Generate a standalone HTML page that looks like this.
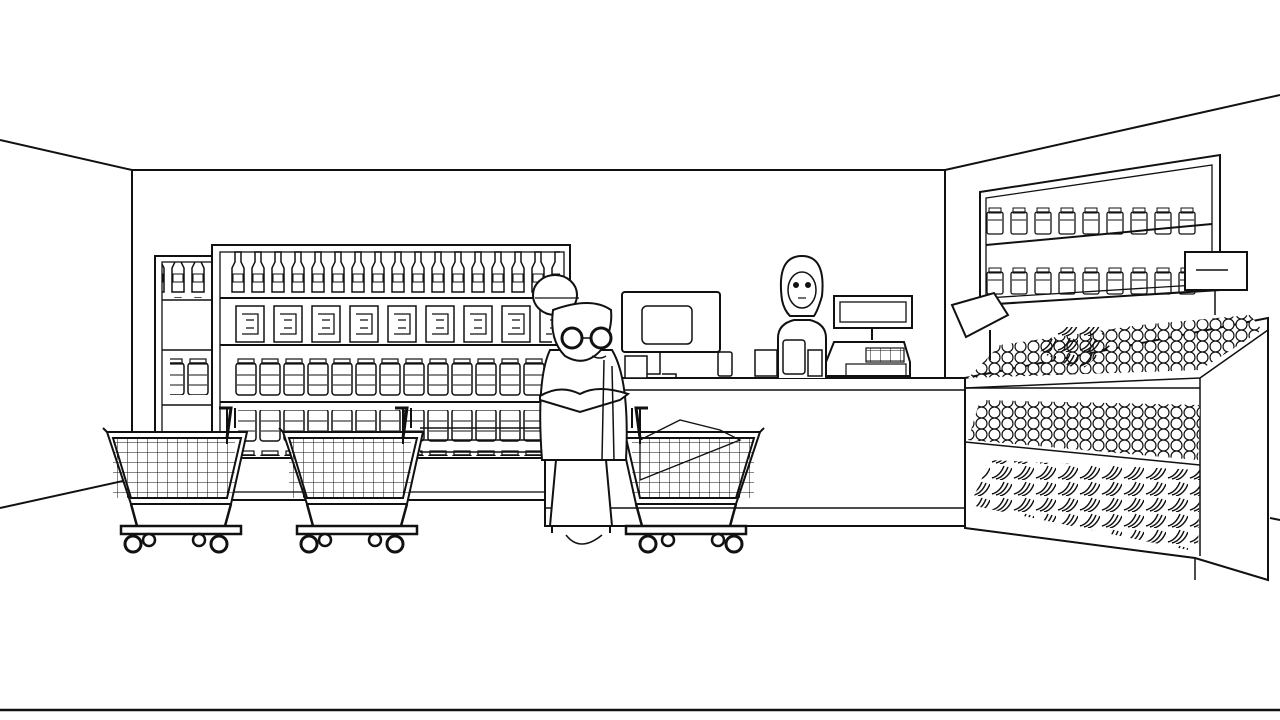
<!DOCTYPE html>
<html><head><meta charset="utf-8"><style>
html,body{margin:0;padding:0;background:#fff;width:1280px;height:720px;overflow:hidden}
svg{display:block}
</style></head><body>
<svg width="1280" height="720" viewBox="0 0 1280 720" xmlns="http://www.w3.org/2000/svg" fill="none" stroke="#111" stroke-width="2">
<defs>
<pattern id="bot" x="228" y="250" width="20" height="46" patternUnits="userSpaceOnUse">
<path d="M7 2h6v10l3 6v24h-12v-24l3-6z" stroke-width="1.5"/><rect x="5" y="24" width="10" height="8" stroke-width="1"/>
</pattern>
<pattern id="box" x="232" y="300" width="38" height="46" patternUnits="userSpaceOnUse">
<rect x="4" y="6" width="28" height="36" stroke-width="1.5"/><path d="M10 14h16v20h-16M14 20h8M14 28h8" stroke-width="1.3"/>
</pattern>
<pattern id="jar" x="234" y="355" width="24" height="46" patternUnits="userSpaceOnUse">
<rect x="2" y="8" width="20" height="32" rx="3" stroke-width="1.5"/><rect x="4" y="4" width="16" height="5" stroke-width="1.2"/><path d="M3 20h18M3 30h18" stroke-width="1"/>
</pattern>
<pattern id="jar2" x="984" y="180" width="24" height="60" patternUnits="userSpaceOnUse">
<rect x="3" y="32" width="16" height="22" rx="2" stroke-width="1.3"/><rect x="5" y="28" width="12" height="5" stroke-width="1"/><path d="M4 40h14" stroke-width="1"/>
</pattern>
<pattern id="fruit" x="0" y="0" width="13" height="11" patternUnits="userSpaceOnUse">
<circle cx="6.5" cy="5.5" r="5.5" stroke-width="1.2" fill="#fff"/>
</pattern>
<pattern id="ban" x="0" y="0" width="22" height="16" patternUnits="userSpaceOnUse">
<path d="M2 14q8-2 12-12M6 15q8-2 12-12M10 16q8-2 12-12" stroke-width="1.5"/>
</pattern>
<pattern id="wire" x="0" y="0" width="10" height="10" patternUnits="userSpaceOnUse">
<path d="M0 0v10M0 0h10" stroke-width="1"/>
</pattern>
<g id="cart">
<path d="M0 0h140l-16 72h-100z" fill="#fff"/>
<rect x="6" y="6" width="122" height="60" fill="url(#wire)" stroke="none"/>
<path d="M6 6h128l-14 60h-96zM0 0l-4-4M120 -24v36M128 -24v20" stroke-width="2"/>
<path d="M112 -24h12l-4 30" stroke-width="3"/>
<path d="M24 72l6 22M124 72l-6 22M14 94h120v8h-120z" stroke-width="2.5" fill="#fff"/>
<circle cx="26" cy="112" r="8" fill="#fff" stroke-width="3"/><circle cx="112" cy="112" r="8" fill="#fff" stroke-width="3"/>
<circle cx="92" cy="108" r="6" fill="#fff" stroke-width="2.5"/><circle cx="42" cy="108" r="6" fill="#fff" stroke-width="2.5"/>
<path d="M26 102v3M112 102v3"/>
</g>
</defs>

<!-- room -->
<path d="M0 140L132 170H945L1280 95"/>
<path d="M132 170V475M945 170V380"/>
<path d="M0 508L150 475"/>
<path d="M1270 518L1280 520"/>
<path d="M0 710H1280" stroke-width="2.5"/>

<!-- left back shelf -->
<rect x="155" y="256" width="60" height="240" fill="#fff"/>
<rect x="162" y="262" width="50" height="230" stroke-width="1.3"/>
<path d="M162 300h50M162 350h50M162 405h50" stroke-width="1.5"/>
<rect x="162" y="262" width="50" height="36" fill="url(#bot)" stroke="none"/>
<rect x="170" y="355" width="42" height="40" fill="url(#jar)" stroke="none"/>
<!-- main shelf -->
<rect x="212" y="245" width="358" height="255" fill="#fff"/>
<rect x="220" y="252" width="344" height="240" stroke-width="1.3"/>
<path d="M220 298h344M220 345h344M220 402h344M220 458h344" stroke-width="2"/>
<rect x="225" y="250" width="335" height="46" fill="url(#bot)" stroke="none"/>
<rect x="232" y="300" width="320" height="46" fill="url(#box)" stroke="none"/>
<rect x="234" y="355" width="320" height="46" fill="url(#jar)" stroke="none"/>
<rect x="238" y="410" width="320" height="46" fill="url(#jar)" stroke="none"/>
<path d="M420 428h130M420 440h130M420 452h130" stroke-width="1.5"/>
<path d="M240 500h320" stroke-width="1.5"/>

<!-- counter -->
<rect x="545" y="378" width="420" height="148" fill="#fff"/>
<path d="M545 390H965M545 508H965" stroke-width="1.5"/>
<!-- register -->
<rect x="622" y="292" width="98" height="60" rx="3" fill="#fff"/>
<rect x="642" y="306" width="50" height="38" rx="5" stroke-width="1.5"/>
<path d="M660 352v22h-14v4h30v-4h-14" stroke-width="1.5"/>
<rect x="625" y="356" width="22" height="22" fill="#fff" stroke-width="1.5"/>
<rect x="718" y="352" width="14" height="24" rx="2" stroke-width="1.5"/>
<rect x="755" y="350" width="22" height="26" fill="#fff" stroke-width="1.5"/>
<!-- cashier -->
<path d="M778 378v-40q0-14 16-18h16q16 4 16 18v40" fill="#fff"/>
<path d="M782 300q-6-44 20-44q24 0 20 40q-4 14-8 20h-24q-6-6-8-16z" fill="#fff"/>
<ellipse cx="802" cy="290" rx="14" ry="18" stroke-width="1.5"/>
<circle cx="796" cy="285" r="2" fill="#111"/><circle cx="808" cy="285" r="2" fill="#111"/>
<path d="M798 298h8" stroke-width="1.2"/>
<rect x="783" y="340" width="22" height="34" rx="3" fill="#fff" stroke-width="1.5"/>
<rect x="808" y="350" width="14" height="26" fill="#fff" stroke-width="1.5"/>
<!-- card terminal -->
<rect x="834" y="296" width="78" height="32" fill="#fff"/>
<rect x="840" y="302" width="66" height="20" stroke-width="1.3"/>
<path d="M872 328v12" />
<path d="M826 362l8-20h70l6 20v14h-84z" fill="#fff"/>
<rect x="866" y="348" width="38" height="14" fill="url(#wire)" stroke-width="1.2"/>
<rect x="846" y="364" width="60" height="12" stroke-width="1.2"/>

<!-- right wall shelf -->
<path d="M980 192L1220 155V290L980 305Z" fill="#fff"/>
<path d="M986 198L1212 165V284L986 298Z" stroke-width="1.3"/>
<path d="M986 245L1212 224" stroke-width="2"/>
<rect x="984" y="180" width="212" height="60" fill="url(#jar2)" stroke="none"/>
<rect x="984" y="236" width="212" height="60" fill="url(#jar2)" stroke="none"/>

<!-- produce stand -->
<path d="M965 378L1268 318V580L1195 558L965 528Z" fill="#fff"/>
<path d="M965 388L1200 378V556M1200 378L1268 330" stroke-width="1.5"/>
<path d="M965 442L1200 465M965 388L1200 388" stroke-width="1.5"/>
<path d="M968 378L1000 345L1140 325L1250 315L1262 330L1200 370Z" fill="url(#fruit)" stroke="none"/>
<path d="M1040 352l20-25h40l10 20-30 24z" fill="url(#ban)" stroke="none"/>
<path d="M968 440L980 400L1200 405L1198 460Z" fill="url(#fruit)" stroke="none"/>
<path d="M970 505L990 460L1200 470L1198 552Z" fill="url(#ban)" stroke="none"/>
<path d="M965 528L1195 558V580M965 512V528" stroke-width="1.5"/>
<!-- signs -->
<path d="M952 305l42-12 14 22-42 22z" fill="#fff"/>
<path d="M990 330v30" stroke-width="2"/>
<rect x="1185" y="252" width="62" height="38" fill="#fff"/>
<path d="M1196 270h32M1215 290v25" stroke-width="1.5"/>

<!-- carts -->
<use href="#cart" transform="translate(107,432)"/>
<use href="#cart" transform="translate(283,432)"/>
<g transform="translate(760,432) scale(-1,1)"><use href="#cart"/></g>
<path d="M640 440l40-20 40 10 20 10-100 40z" stroke-width="1.3"/>

<!-- old woman -->
<path d="M548 460h8l-6 66h62l-6-66h10z" fill="#fff"/>
<path d="M552 525v8M610 525v8"/>
<path d="M566 535q14 18 36 0" stroke-width="1.5"/>
<path d="M550 350q-14 30-8 110h84q4-80-14-110z" fill="#fff"/>
<path d="M540 400l40 12 40-12 8 -6q-30-10-48 0q-20-10-40 2z" fill="#fff"/>
<ellipse cx="555" cy="295" rx="22" ry="20" fill="#fff"/>
<path d="M535 298h44" stroke-width="1.2"/>
<path d="M553 310q-4 30 12 46q20 12 36 -6q12-20 10-40q-20-14-58 0z" fill="#fff"/>
<circle cx="572" cy="338" r="10" fill="#fff" stroke-width="3"/><circle cx="601" cy="338" r="10" fill="#fff" stroke-width="3"/>
<path d="M582 338h9M592 356q8 4 14 0" stroke-width="1.5"/>
<path d="M604 360l-2 100M612 366l2 94" stroke-width="1.5"/>
</svg>
</body></html>
